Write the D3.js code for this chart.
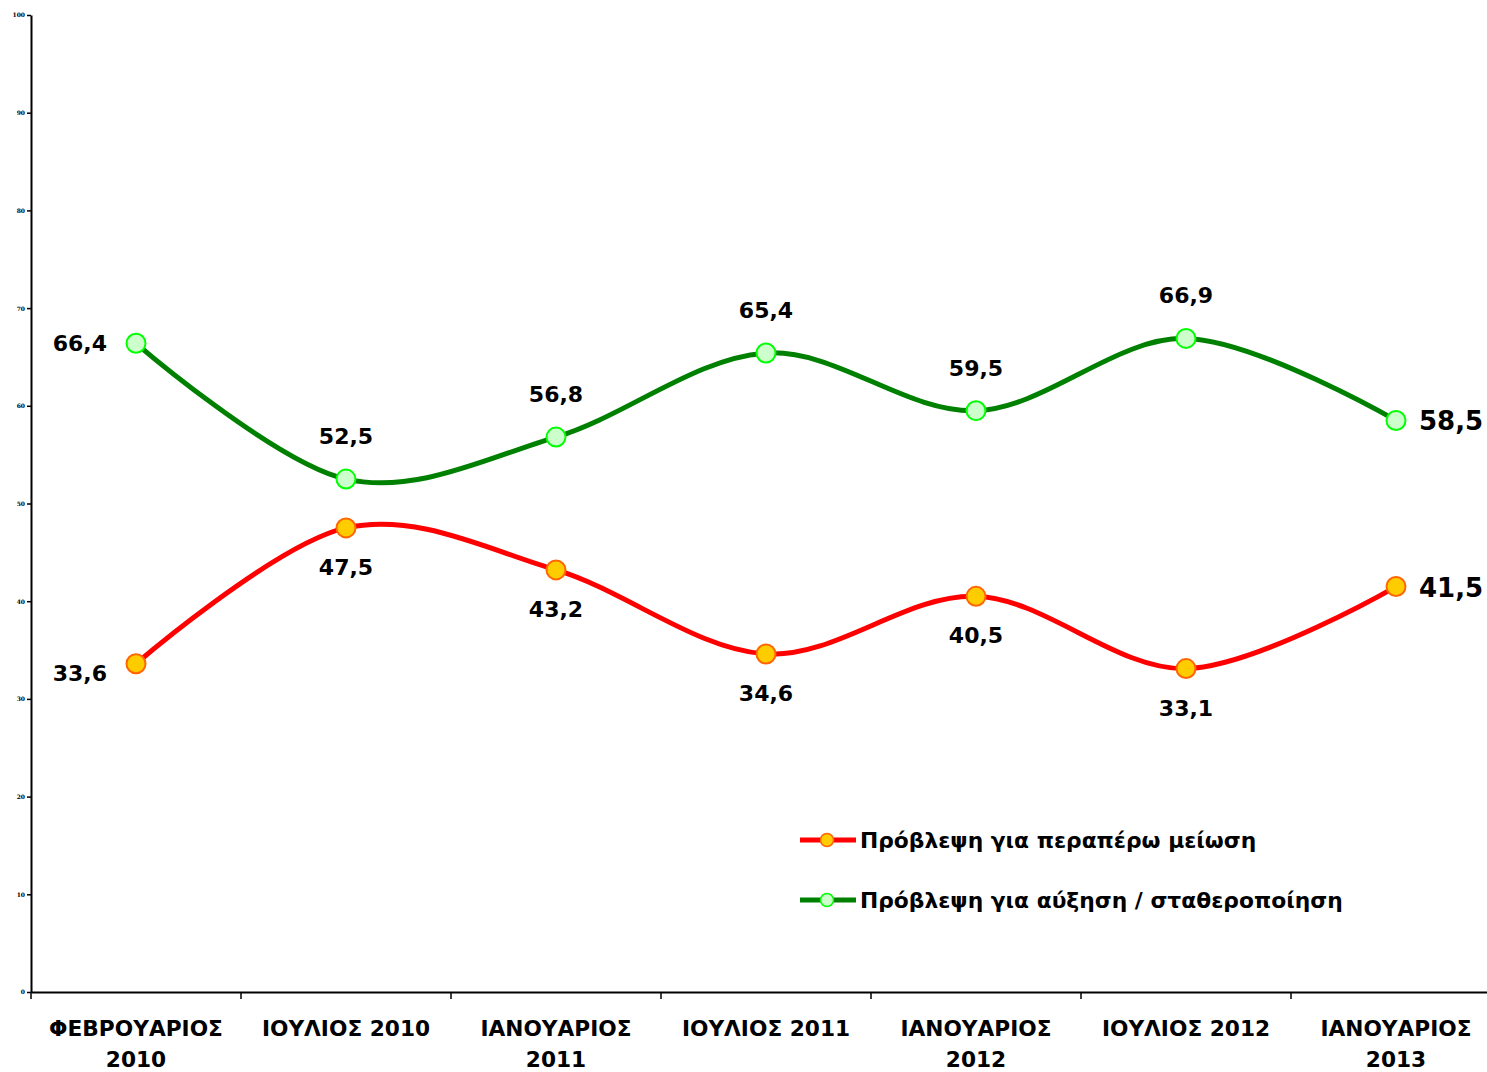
<!DOCTYPE html>
<html><head><meta charset="utf-8">
<script src="https://cdn.jsdelivr.net/npm/d3@7"></script>
<style>body{margin:0;background:#fff;}svg{display:block;}</style>
</head><body>
<svg id="chart" width="1487" height="1072"></svg>
<script>
const categories = [["ΦΕΒΡΟΥΑΡΙΟΣ","2010"],["ΙΟΥΛΙΟΣ 2010"],["ΙΑΝΟΥΑΡΙΟΣ","2011"],["ΙΟΥΛΙΟΣ 2011"],["ΙΑΝΟΥΑΡΙΟΣ","2012"],["ΙΟΥΛΙΟΣ 2012"],["ΙΑΝΟΥΑΡΙΟΣ","2013"]];
const decreaseValues = [33.6, 47.5, 43.2, 34.6, 40.5, 33.1, 41.5];
const increaseValues = [66.4, 52.5, 56.8, 65.4, 59.5, 66.9, 58.5];
const seriesNames = ["Πρόβλεψη για περαπέρω μείωση", "Πρόβλεψη για αύξηση / σταθεροποίηση"];
const yTicks = [0,10,20,30,40,50,60,70,80,90,100];

const svg = d3.select("#chart");
const x = d3.scaleBand().domain(d3.range(categories.length)).range([31, 1501]).padding(0);
const y = d3.scaleLinear().domain([0, 100]).range([992, 15]);
const fmt = v => String(v).replace(".", ",");
const cx = i => x(i) + x.bandwidth()/2;

// y axis
const yAxis = svg.append("g").attr("transform","translate(31,0)")
  .call(d3.axisLeft(y).tickValues(yTicks).tickSize(4).tickSizeOuter(0));
yAxis.select(".domain").attr("stroke","#000").attr("stroke-width",2);
yAxis.selectAll(".tick line").attr("stroke","#000").attr("stroke-width",1.5);
yAxis.selectAll(".tick text").attr("font-family","'DejaVu Serif', serif").attr("font-weight","bold")
  .attr("font-size",6).attr("fill","#000").attr("x",-6);

// x axis
const xAxis = svg.append("g").attr("transform","translate(0,992)")
  .call(d3.axisBottom(x).tickSize(0).tickFormat(""));
xAxis.select(".domain").attr("stroke","#000").attr("stroke-width",2);
xAxis.selectAll(".tick").remove();
const bounds = d3.range(categories.length).map(i => x(i));
svg.append("g").selectAll("line").data(bounds).join("line")
  .attr("x1",d=>d).attr("x2",d=>d).attr("y1",992).attr("y2",999)
  .attr("stroke","#000").attr("stroke-width",1.5);
const xl = svg.append("g").attr("font-family","'DejaVu Sans', sans-serif").attr("font-weight","bold")
  .attr("font-size",21.7).attr("fill","#000").attr("text-anchor","middle");
categories.forEach((lines,i)=>{
  lines.forEach((t,j)=>{
    xl.append("text").attr("x",cx(i)).attr("y",1036 + j*31).text(t);
  });
});

const line = d3.line().x((d,i)=>cx(i)).y(d=>y(d)).curve(d3.curveCatmullRom.alpha(0));

const series = [
  {vals: decreaseValues, stroke:"#ff0000", fill:"#ffcc00", mstroke:"#ff6600", below:true},
  {vals: increaseValues, stroke:"#008000", fill:"#ccffcc", mstroke:"#00ff00", below:false}
];
series.forEach(s=>{
  svg.append("path").attr("d", line(s.vals)).attr("fill","none")
    .attr("stroke", s.stroke).attr("stroke-width",5).attr("stroke-linejoin","round");
});
series.forEach(s=>{
  svg.append("g").selectAll("circle").data(s.vals).join("circle")
    .attr("cx",(d,i)=>cx(i)).attr("cy",d=>y(d)).attr("r",9.5)
    .attr("fill",s.fill).attr("stroke",s.mstroke).attr("stroke-width",2);
});
// labels
series.forEach(s=>{
  const g = svg.append("g").attr("font-family","'DejaVu Sans', sans-serif").attr("font-weight","bold").attr("fill","#000");
  s.vals.forEach((v,i)=>{
    const n = s.vals.length;
    let tx = cx(i), ty, anchor="middle", size=22;
    if (i===0) { anchor="end"; tx = cx(i) - 29; ty = s.below ? y(v)+17 : y(v)+8; }
    else if (i===n-1) { anchor="start"; tx = cx(i)+23; ty = y(v)+10; size=26; }
    else { ty = s.below ? y(v)+47 : y(v)-35; }
    g.append("text").attr("x",tx).attr("y",ty).attr("text-anchor",anchor).attr("font-size",size).text(fmt(v));
  });
});

// legend
const legend = svg.append("g");
series.forEach((s,k)=>{
  const ly = 840 + k*60;
  legend.append("line").attr("x1",800).attr("x2",856).attr("y1",ly).attr("y2",ly)
    .attr("stroke",s.stroke).attr("stroke-width",5);
  legend.append("circle").attr("cx",827).attr("cy",ly).attr("r",6.5)
    .attr("fill",s.fill).attr("stroke",s.mstroke).attr("stroke-width",1.5);
  legend.append("text").attr("x",860).attr("y",ly+8)
    .attr("font-family","'DejaVu Sans', sans-serif").attr("font-weight","bold").attr("font-size",21.8)
    .attr("fill","#000").text(seriesNames[k]);
});
</script>
</body></html>
